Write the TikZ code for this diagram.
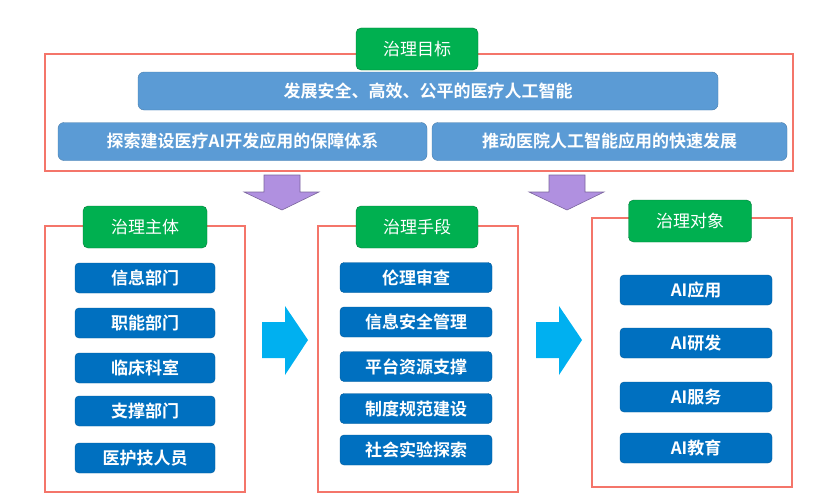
\documentclass[tikz,border=0pt]{standalone}
\usepackage{fontspec}
\setmainfont{Noto Sans CJK SC}
\newfontfamily\cjkb{Noto Sans CJK SC Bold}
\definecolor{frm}{HTML}{F4756A}
\definecolor{grn}{HTML}{00B050}
\definecolor{lbl}{HTML}{5B9BD5}
\definecolor{dbl}{HTML}{0070C0}
\definecolor{pur}{HTML}{B090E0}
\definecolor{cyn}{HTML}{00B0F0}
\begin{document}
\begin{tikzpicture}[x=1pt,y=-1pt,
 frame/.style={draw=frm,line width=2pt},
 title/.style={fill=grn,draw=grn!70!black,rounded corners=5pt,text=white,font=\fontsize{17}{17}\selectfont,inner sep=0pt},
 bar/.style={fill=lbl,draw=lbl!80!black,rounded corners=6pt,text=white,font=\cjkb\fontsize{17}{17}\selectfont,inner sep=0pt},
 item/.style={fill=dbl,draw=dbl!80!black,rounded corners=4pt,text=white,font=\cjkb\fontsize{17}{17}\selectfont,inner sep=0pt},
 parr/.style={fill=pur,draw=pur!70!black,line width=0.6pt},
 carr/.style={fill=cyn,draw=none}]
\useasboundingbox (0,0) rectangle (813,503);
\newcommand\bx[6]{\node[#1,minimum width=#4-#2,minimum height=#5-#3] (#6) at ({(#2+#4)/2},{(#3+#5)/2}) {};}
% frames
\draw[frame] (45,54) rectangle (793,171);
\draw[frame] (45,226) rectangle (245,492);
\draw[frame] (318,226) rectangle (518,492);
\draw[frame] (592,218) rectangle (792,487);
% titles
\node[title,minimum width=122,minimum height=42] (t1) at (417,49) {治理目标};
\node[title,minimum width=124,minimum height=42] (t2) at (145,227) {治理主体};
\node[title,minimum width=122,minimum height=42] (t3) at (417,227) {治理手段};
\node[title,minimum width=123,minimum height=42] (t4) at (690,221) {治理对象};
% bars
\node[bar,minimum width=580,minimum height=38] (b1) at (428,91) {发展安全、高效、公平的医疗人工智能};
\node[bar,minimum width=369,minimum height=38] (b2) at (242.5,141.5) {探索建设医疗AI开发应用的保障体系};
\node[bar,minimum width=355,minimum height=38] (b3) at (609.5,141.5) {推动医院人工智能应用的快速发展};
% purple arrows
\draw[parr] (264,175) -- (300,175) -- (300,192) -- (319,192) -- (282,210) -- (244,192) -- (264,192) -- cycle;
\draw[parr] (549,175) -- (585,175) -- (585,192) -- (604,192) -- (567,210) -- (529,192) -- (549,192) -- cycle;
% cyan arrows
\fill[carr] (262,322) -- (285,322) -- (285,306) -- (308,340) -- (285,375) -- (285,358) -- (262,358) -- cycle;
\fill[carr] (536,322) -- (559,322) -- (559,306) -- (582,340) -- (559,375) -- (559,358) -- (536,358) -- cycle;
% left items
\node[item,minimum width=140,minimum height=30] (l1) at (145,278) {信息部门};
\node[item,minimum width=140,minimum height=30] (l2) at (145,323) {职能部门};
\node[item,minimum width=140,minimum height=30] (l3) at (145,368) {临床科室};
\node[item,minimum width=140,minimum height=30] (l4) at (145,411) {支撑部门};
\node[item,minimum width=140,minimum height=30] (l5) at (145,458) {医护技人员};
% middle items
\node[item,minimum width=152,minimum height=30] (m1) at (416,277.5) {伦理审查};
\node[item,minimum width=152,minimum height=30] (m2) at (416,322) {信息安全管理};
\node[item,minimum width=152,minimum height=30] (m3) at (416,366.5) {平台资源支撑};
\node[item,minimum width=152,minimum height=30] (m4) at (416,408.5) {制度规范建设};
\node[item,minimum width=152,minimum height=30] (m5) at (416,450) {社会实验探索};
% right items
\node[item,minimum width=152,minimum height=30] (r1) at (696,290) {AI应用};
\node[item,minimum width=152,minimum height=30] (r2) at (696,343) {AI研发};
\node[item,minimum width=152,minimum height=30] (r3) at (696,397) {AI服务};
\node[item,minimum width=152,minimum height=30] (r4) at (696,448) {AI教育};
\end{tikzpicture}
\end{document}
